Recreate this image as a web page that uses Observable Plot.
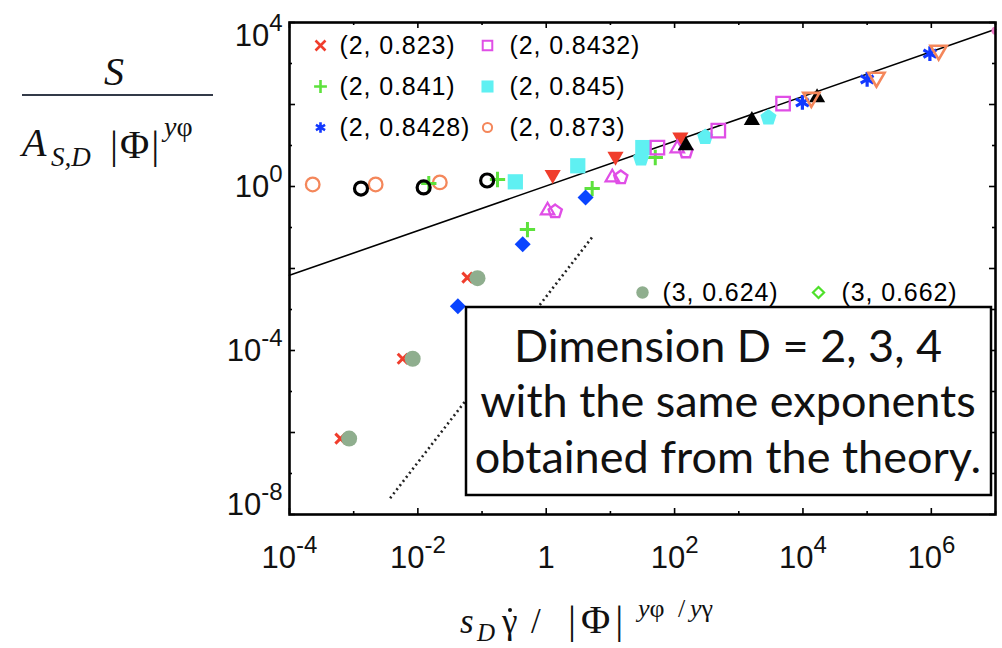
<!DOCTYPE html>
<html>
<head>
<meta charset="utf-8">
<script src="https://cdn.jsdelivr.net/npm/d3@7"></script>
<script src="https://cdn.jsdelivr.net/npm/@observablehq/plot@0.6"></script>
<style>
html,body{margin:0;padding:0;background:#fff;}
#wrap{position:relative;width:1002px;height:648px;overflow:hidden;background:#fff;}
#wrap svg.over{position:absolute;left:0;top:0;pointer-events:none;}
.leg text{letter-spacing:0.9px;}
</style>
</head>
<body>
<div id="wrap"></div>
<script>
// ---------------- data ----------------
const xTickValues = [1e-4,1e-3,1e-2,1e-1,1,1e1,1e2,1e3,1e4,1e5,1e6,1e7];
const xMajorTicks = [1e-4,1e-2,1,1e2,1e4,1e6];
const xTickLabels = ["10^-4","10^-2","1","10^2","10^4","10^6"];
const yTickValues = [1e-8,1e-7,1e-6,1e-5,1e-4,1e-3,1e-2,1e-1,1,1e1,1e2,1e3,1e4];
const yMajorTicks = [1e-8,1e-6,1e-4,1e-2,1,1e2,1e4];
const yLabelValues = [1e4,1,1e-4,1e-8];
const yTickLabels = ["10^4","10^0","10^-4","10^-8"];

const legendLabels = ["(2, 0.823)","(2, 0.841)","(2, 0.8428)","(2, 0.8432)","(2, 0.845)","(2, 0.873)","(3, 0.624)","(3, 0.662)"];

// labelled series  [x, y]
const redCross      = [[6.2e-4,7.1e-7],[5.8e-3,6.3e-5],[0.059,6.0e-3]];          // (2, 0.823)
const greenPlus     = [[0.0148,1.18],[0.174,1.48],[0.51,0.089],[5.2,0.89],[50,5.1]]; // (2, 0.841)
const blueStar      = [[9800,112],[1.0e5,410],[9.5e5,1740]];                     // (2, 0.8428)
const magentaSquare = [[54,8.9],[480,23],[4900,105]];                            // (2, 0.8432)
const cyanSquare    = [[0.33,1.3],[3.1,3.2],[32,8.9]];                           // (2, 0.845)
const orangeCircle  = [[2.3e-4,1.12],[2.2e-3,1.12],[0.022,1.26]];                // (2, 0.873)
const greyDisc      = [[8.5e-4,7.1e-7],[8.3e-3,6.3e-5],[0.085,5.8e-3]];          // (3, 0.624)
const greenDiamond  = [];                                                        // (3, 0.662) hidden
// unlabelled series
const blackCircle = [[1.3e-3,0.89],[0.0123,0.95],[0.12,1.4]];
const redDown     = [[1.26,1.95],[12,5.4],[123,16]];
const blueDiamond = [[0.042,1.2e-3],[0.43,0.039],[4.1,0.54]];
const magentaUp   = [[1.05,0.26],[10.7,1.66],[110,8.5]];
const magentaPent = [[1.38,0.245],[14.5,1.66],[150,7.1]];
const cyanPent    = [[30,4.8],[300,16],[2900,48]];
const blackUp     = [[150,10],[1600,41],[16600,148]];
const orangeDown  = [[13500,148],[1.4e5,457],[1.3e6,2090]];
const pinkEdge    = [[1e7,6300]];
// reference lines
const fitLine    = [[1e-4,6.8e-3],[1e7,6.8e3]];
const slope2Line = [[3.7e-3,2.5e-8],[5.2,0.058]];

// ---------------- layout / style ----------------
const W = 1002, H = 648, mL = 289, mR = 7, mT = 22, mB = 134;
const ih = H - mT - mB, iw = W - mL - mR;
const P = {x: d => d[0], y: d => d[1]};
const pentagon = {draw(ctx, size){
  const r = Math.sqrt(size/Math.PI)*1.12;
  for (let i = 0; i < 5; i++){
    const a = -Math.PI/2 + i*2*Math.PI/5;
    const px = r*Math.cos(a), py = r*Math.sin(a);
    if (i) ctx.lineTo(px,py); else ctx.moveTo(px,py);
  }
  ctx.closePath();
}};

const C = {red:"#f03d2c", green:"#5de23c", blue:"#1238ff", magenta:"#e04ee6", cyan:"#5ff0f2",
           orange:"#f4875b", grey:"#8fae8e", green2:"#4ee02a", pink:"#f07ac8"};

const legendStyle = [
  {symbol:"times", stroke:C.red, strokeWidth:2.6, r:4.6},
  {symbol:"plus", stroke:C.green, strokeWidth:2.6, r:4.2},
  {symbol:"asterisk", stroke:C.blue, strokeWidth:2.6, r:5},
  {symbol:"square", stroke:C.magenta, fill:"none", strokeWidth:2, r:5.4},
  {symbol:"square", fill:C.cyan, r:6.8},
  {symbol:"circle", stroke:C.orange, fill:"none", strokeWidth:2, r:4.6},
  {symbol:"circle", fill:C.grey, r:6.2},
  {symbol:"diamond2", stroke:C.green2, fill:"none", strokeWidth:2.2, r:5}
];
// [marker dx, text dx, dy] relative to frame top-left
const legendPos = [[31,50,23],[31,50,64],[31,50,105],[198,220,23],[198,220,64],[198,220,105],[353,373,270],[529,552,270]];

const legendMarks = legendLabels.flatMap((lab, i) => {
  const [mx, tx, dy] = legendPos[i];
  return [
    Plot.dot([0], {frameAnchor:"top-left", dx:mx, dy, ...legendStyle[i]}),
    Plot.text([lab], {frameAnchor:"top-left", dx:tx, dy, text:d=>d, textAnchor:"start", lineAnchor:"middle",
      fontSize:25, fill:"#000", className:"leg"})
  ];
});

const yLabelDy = [23, 10, 10, 0];
const yLabelMarks = yLabelValues.map((v,i) => Plot.text([yTickLabels[i]], {
  y: () => v, frameAnchor:"left", text:d=>d, textAnchor:"end", lineAnchor:"bottom",
  dx:-7, dy:yLabelDy[i], fontSize:31, fill:"#111", className:"sup"}));

const tickLen = (major) => major ? 6 : 3;
const isMajX = v => xMajorTicks.includes(v);
const isMajY = v => yMajorTicks.includes(v);
const tk = {stroke:"#000", strokeWidth:1.6};

const chart = Plot.plot({
  width: W, height: H, marginLeft: mL, marginRight: mR, marginTop: mT, marginBottom: mB,
  style: {fontFamily: "'Liberation Sans', Arial, sans-serif", background: "#fff", overflow: "visible"},
  x: {type: "log", domain: [1e-4, 1e7], axis: null},
  y: {type: "log", domain: [1e-8, 1e4], axis: null},
  marks: [
    // ticks (inward) on all four sides
    Plot.tickX(xTickValues.filter(isMajX), {x:d=>d, insetTop: ih - tickLen(true), ...tk}),
    Plot.tickX(xTickValues.filter(v=>!isMajX(v)), {x:d=>d, insetTop: ih - tickLen(false), ...tk}),
    Plot.tickX(xTickValues.filter(isMajX), {x:d=>d, insetBottom: ih - tickLen(true), ...tk}),
    Plot.tickX(xTickValues.filter(v=>!isMajX(v)), {x:d=>d, insetBottom: ih - tickLen(false), ...tk}),
    Plot.tickY(yTickValues.filter(isMajY), {y:d=>d, insetRight: iw - tickLen(true), ...tk}),
    Plot.tickY(yTickValues.filter(v=>!isMajY(v)), {y:d=>d, insetRight: iw - tickLen(false), ...tk}),
    Plot.tickY(yTickValues.filter(isMajY), {y:d=>d, insetLeft: iw - tickLen(true), ...tk}),
    Plot.tickY(yTickValues.filter(v=>!isMajY(v)), {y:d=>d, insetLeft: iw - tickLen(false), ...tk}),
    // tick labels
    Plot.text(xTickLabels, {x:(d,i)=>xMajorTicks[i], frameAnchor:"bottom", text:d=>d, textAnchor:"middle",
      lineAnchor:"bottom", dy:53, fontSize:31, fill:"#111", className:"sup"}),
    ...yLabelMarks,
    // lines
    Plot.line(fitLine, {...P, stroke:"#000", strokeWidth:1.6}),
    Plot.line(slope2Line, {...P, stroke:"#222", strokeWidth:2.6, strokeDasharray:"2 3.2", strokeLinecap:"butt"}),
    // data
    Plot.dot(orangeCircle, {...P, symbol:"circle", stroke:C.orange, fill:"none", strokeWidth:2.3, r:6.8}),
    Plot.dot(greenPlus, {...P, symbol:"plus", stroke:C.green, strokeWidth:3, r:5}),
    Plot.dot(blackCircle, {...P, symbol:"circle", stroke:"#000", fill:"none", strokeWidth:3.2, r:6.5}),
    Plot.dot(cyanSquare, {...P, symbol:"square", fill:C.cyan, r:8.6}),
    Plot.dot(redDown, {...P, symbol:"triangle", rotate:180, fill:C.red, r:6}),
    Plot.dot(magentaUp, {...P, symbol:"triangle", stroke:C.magenta, fill:"none", strokeWidth:2.2, r:5}),
    Plot.dot(magentaPent, {...P, symbol:pentagon, stroke:C.magenta, fill:"none", strokeWidth:2.4, r:6.2}),
    Plot.dot(blueDiamond, {...P, symbol:"diamond2", fill:"#0a44ff", r:7.2}),
    Plot.dot(redCross, {...P, symbol:"times", stroke:C.red, strokeWidth:3, r:4.6}),
    Plot.dot(greyDisc, {...P, symbol:"circle", fill:C.grey, r:8}),
    Plot.dot(greenDiamond, {...P, symbol:"diamond2", stroke:C.green2, fill:"none", strokeWidth:2, r:6}),
    Plot.dot(cyanPent, {...P, symbol:pentagon, fill:C.cyan, r:7.6}),
    Plot.dot(magentaSquare, {...P, symbol:"square", stroke:C.magenta, fill:"none", strokeWidth:2.3, r:7.6}),
    Plot.dot(blackUp, {...P, symbol:"triangle", fill:"#000", r:6}),
    Plot.dot(blueStar, {...P, symbol:"asterisk", stroke:C.blue, strokeWidth:3.2, r:7}),
    Plot.dot(orangeDown, {...P, symbol:"triangle", rotate:180, stroke:C.orange, fill:"none", strokeWidth:2.6, r:6}),
    Plot.dot(pinkEdge, {...P, symbol:"circle", fill:C.pink, r:4, clip:true}),
    // legend
    ...legendMarks,
    Plot.frame({stroke:"#000", strokeWidth:2.6})
  ]
});

// superscripts in tick labels ("10^-4")
const NS = "http://www.w3.org/2000/svg";
chart.querySelectorAll(".sup text").forEach(t => {
  const s = t.textContent, i = s.indexOf("^");
  if (i < 0) return;
  t.textContent = "";
  const a = document.createElementNS(NS, "tspan"); a.textContent = s.slice(0, i);
  const b = document.createElementNS(NS, "tspan"); b.textContent = s.slice(i + 1);
  b.setAttribute("dy", "-15"); b.setAttribute("font-size", "24");
  t.append(a, b);
});

const wrap = document.getElementById("wrap");
wrap.appendChild(chart);

// overlay: axis titles and annotation box
const over = document.createElementNS(NS, "svg");
over.setAttribute("class", "over");
over.setAttribute("width", W); over.setAttribute("height", H);
over.innerHTML = `
<g font-family="'Liberation Serif','DejaVu Serif',serif" fill="#111">
  <text x="114" y="85" text-anchor="middle" font-size="40" font-style="italic">S</text>
  <line x1="22" x2="213" y1="95" y2="95" stroke="#333a48" stroke-width="2"/>
  <text y="156" font-size="40">
    <tspan x="22" font-style="italic">A</tspan><tspan x="51" dy="10" font-size="27" font-style="italic">S,D</tspan><tspan x="110" dy="-8" letter-spacing="2">|Φ|</tspan><tspan x="164" dy="-22" font-size="28" font-style="italic">y</tspan><tspan font-size="28">φ</tspan>
  </text>
  <text y="633" font-size="35">
    <tspan x="460" font-style="italic">s</tspan><tspan x="477" dy="8" font-size="25" font-style="italic">D</tspan><tspan x="502" dy="-8">γ</tspan><tspan x="531">/</tspan><tspan x="568" font-size="40" letter-spacing="5">|Φ|</tspan><tspan x="638" dy="-16" font-size="26" font-style="italic">y</tspan><tspan font-size="26">φ</tspan><tspan x="678" font-size="26">/</tspan><tspan x="690" font-size="26" font-style="italic">y</tspan><tspan font-size="26">γ</tspan>
  </text>
</g>
<circle cx="510" cy="610" r="2" fill="#111"/>
<rect x="466" y="307" width="525" height="188" fill="#fff" stroke="#000" stroke-width="2.5"/>
<g font-family="Lato,'Open Sans',sans-serif" font-size="45" fill="#111" text-anchor="middle">
  <text x="728" y="362">Dimension D = 2, 3, 4</text>
  <text x="728" y="417">with the same exponents</text>
  <text x="728" y="473">obtained from the theory.</text>
</g>`;
wrap.appendChild(over);
</script>
</body>
</html>
